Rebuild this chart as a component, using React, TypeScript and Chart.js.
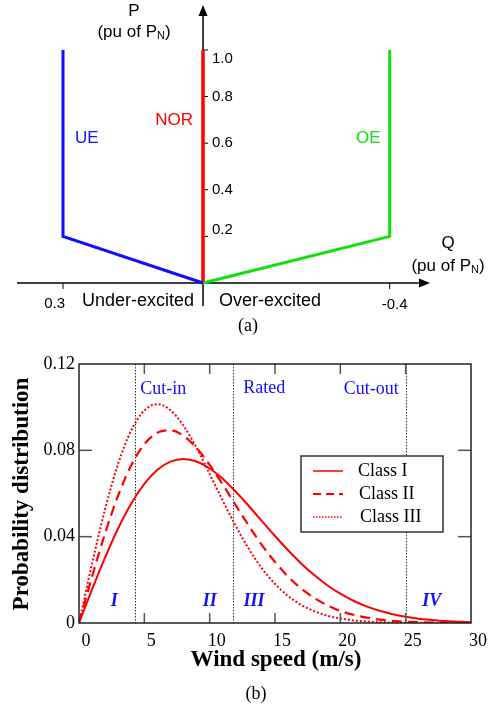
import React, { useEffect, useRef } from 'react';
import { Chart, registerables } from 'chart.js';
Chart.register(...registerables);

// ---------- Panel (a): P-Q capability ----------
const qUE = [0.3, 0.3, 0];
const pUE = [1.0, 0.2, 0];
const qNOR = [0, 0];
const pNOR = [0, 1.0];
const qOE = [-0.4, -0.4, 0];
const pOE = [1.0, 0.2, 0];
const pTicks = [0.2, 0.4, 0.6, 0.8, 1.0];
const pTickLabels = ['0.2', '0.4', '0.6', '0.8', '1.0'];
const qTicks = [0.3, -0.4];
const qTickLabels = ['0.3', '-0.4'];
const qRange = [-0.4864, 0.3986];
const pRange = [-0.0987, 1.193];
const modeNames = ['UE', 'NOR', 'OE'];

// ---------- Panel (b): wind speed distribution ----------
const windSpeed = [0, 1, 2, 3, 4, 5, 6, 7, 8, 9, 10, 11, 12, 13, 14, 15, 16, 17, 18, 19, 20, 21, 22, 23, 24, 25, 26, 27, 28, 29, 30];
const classI = [0, 0.0156, 0.0304, 0.0439, 0.0554, 0.0645, 0.0710, 0.0748, 0.0760, 0.0748, 0.0716, 0.0668, 0.0608, 0.0542, 0.0472, 0.0403, 0.0337, 0.0276, 0.0222, 0.0175, 0.0136, 0.0103, 0.0077, 0.0057, 0.0041, 0.0029, 0.0020, 0.0014, 0.0009, 0.0006, 0.0004];
const classII = [0, 0.0215, 0.0416, 0.0591, 0.0731, 0.0828, 0.0882, 0.0893, 0.0867, 0.0811, 0.0733, 0.0642, 0.0545, 0.0450, 0.0361, 0.0283, 0.0215, 0.0160, 0.0116, 0.0082, 0.0056, 0.0038, 0.0025, 0.0016, 0.0010, 0.0006, 0.0004, 0.0002, 0.0001, 0.0001, 0];
const classIII = [0, 0.0275, 0.0528, 0.0739, 0.0893, 0.0985, 0.1014, 0.0986, 0.0914, 0.0811, 0.0691, 0.0567, 0.0449, 0.0343, 0.0253, 0.0181, 0.0125, 0.0084, 0.0055, 0.0034, 0.0021, 0.0012, 0.0007, 0.0004, 0.0002, 0.0001, 0.0001, 0, 0, 0, 0];
const seriesNames = ['Class I', 'Class II', 'Class III'];
const xTicks = [0, 5, 10, 15, 20, 25, 30];
const yTicks = [0, 0.04, 0.08, 0.12];
const yTickLabels = ['0', '0.04', '0.08', '0.12'];
const thresholds = [4.3, 11.8, 25];
const thresholdNames = ['Cut-in', 'Rated', 'Cut-out'];
const regionNames = ['I', 'II', 'III', 'IV'];
const regionX = [2.7, 10, 13.4, 27];
const regionY = 0.0101;

const SANS = '"Liberation Sans", Arial, sans-serif';
const SERIF = '"Liberation Serif", "Times New Roman", serif';
const BLUE = '#1010ff';
const GREEN = '#10e010';
const RED = '#ff0000';

function drawPu(ctx: CanvasRenderingContext2D, cx: number, cy: number) {
  const big = `17px ${SANS}`;
  const small = `11px ${SANS}`;
  const a = '(pu of P', b = 'N', c = ')';
  ctx.font = big;
  const wa = ctx.measureText(a).width;
  const wc = ctx.measureText(c).width;
  ctx.font = small;
  const wb = ctx.measureText(b).width;
  let xx = cx - (wa + wb + wc) / 2;
  ctx.textAlign = 'left';
  ctx.textBaseline = 'middle';
  ctx.font = big; ctx.fillText(a, xx, cy); xx += wa;
  ctx.font = small; ctx.fillText(b, xx, cy + 4); xx += wb;
  ctx.font = big; ctx.fillText(c, xx, cy);
}

const axesA = {
  id: 'axesA',
  beforeDatasetsDraw(chart: any) {
    const { ctx, chartArea: ca, scales } = chart;
    const x = scales.x, y = scales.y;
    const x0 = x.getPixelForValue(0), y0 = y.getPixelForValue(0);
    ctx.save();
    ctx.strokeStyle = '#000';
    ctx.fillStyle = '#000';
    ctx.lineWidth = 1.5;
    ctx.beginPath(); ctx.moveTo(ca.left, y0); ctx.lineTo(ca.right - 8, y0); ctx.stroke();
    ctx.beginPath(); ctx.moveTo(ca.right, y0); ctx.lineTo(ca.right - 11, y0 - 4.5); ctx.lineTo(ca.right - 11, y0 + 4.5); ctx.closePath(); ctx.fill();
    ctx.beginPath(); ctx.moveTo(x0, ca.bottom); ctx.lineTo(x0, ca.top + 8); ctx.stroke();
    ctx.beginPath(); ctx.moveTo(x0, ca.top); ctx.lineTo(x0 - 4.5, ca.top + 11); ctx.lineTo(x0 + 4.5, ca.top + 11); ctx.closePath(); ctx.fill();
    ctx.lineWidth = 1;
    pTicks.forEach((v) => {
      const yy = y.getPixelForValue(v);
      ctx.beginPath(); ctx.moveTo(x0, yy); ctx.lineTo(x0 + 5, yy); ctx.stroke();
    });
    qTicks.forEach((v) => {
      const xx = x.getPixelForValue(v);
      ctx.beginPath(); ctx.moveTo(xx, y0); ctx.lineTo(xx, y0 + 6); ctx.stroke();
    });
    ctx.restore();
  },
  afterDraw(chart: any) {
    const { ctx, chartArea: ca, scales } = chart;
    const x = scales.x, y = scales.y;
    const x0 = x.getPixelForValue(0), y0 = y.getPixelForValue(0);
    ctx.save();
    ctx.fillStyle = '#000';
    ctx.font = `15px ${SANS}`;
    ctx.textBaseline = 'middle';
    ctx.textAlign = 'left';
    pTicks.forEach((v, i) => {
      ctx.fillText(pTickLabels[i], x0 + 9, y.getPixelForValue(v) + (v === 1.0 ? 9 : v === 0.2 ? -7 : 0));
    });
    qTicks.forEach((v, i) => {
      const xx = x.getPixelForValue(v);
      if (v > 0) { ctx.textAlign = 'right'; ctx.fillText(qTickLabels[i], xx + 2, y0 + 21); }
      else { ctx.textAlign = 'left'; ctx.fillText(qTickLabels[i], xx - 8, y0 + 22); }
    });
    ctx.font = `17px ${SANS}`;
    ctx.textAlign = 'center';
    ctx.fillText('P', x0 - 69, ca.top + 6);
    drawPu(ctx, x0 - 69, ca.top + 27);
    ctx.textAlign = 'center';
    ctx.font = `17px ${SANS}`;
    ctx.fillText('Q', ca.right + 18, y0 - 40);
    drawPu(ctx, ca.right + 18, y0 - 17);
    ctx.font = `18px ${SANS}`;
    ctx.textAlign = 'right';
    ctx.fillText('Under-excited', x0 - 9, y0 + 18);
    ctx.textAlign = 'left';
    ctx.fillText('Over-excited', x0 + 16, y0 + 18);
    // mode labels
    ctx.font = `17px ${SANS}`;
    ctx.fillStyle = BLUE;
    ctx.fillText(modeNames[0], x.getPixelForValue(0.3) + 12, y.getPixelForValue(0.62));
    ctx.fillStyle = RED;
    ctx.textAlign = 'right';
    ctx.fillText(modeNames[1], x0 - 10, y.getPixelForValue(0.7));
    ctx.fillStyle = GREEN;
    ctx.fillText(modeNames[2], x.getPixelForValue(-0.4) - 9, y.getPixelForValue(0.62));
    // caption
    ctx.fillStyle = '#000';
    ctx.textAlign = 'center';
    ctx.font = `18px ${SERIF}`;
    ctx.fillText('(a)', 248, 326);
    ctx.restore();
  },
};

const decorB = {
  id: 'decorB',
  beforeDatasetsDraw(chart: any) {
    const { ctx, chartArea: ca, scales } = chart;
    const x = scales.x;
    ctx.save();
    ctx.strokeStyle = '#333';
    ctx.lineWidth = 1;
    ctx.setLineDash([1.5, 1.5]);
    thresholds.forEach((t) => {
      const xx = Math.round(x.getPixelForValue(t)) + 0.5;
      ctx.beginPath(); ctx.moveTo(xx, ca.top); ctx.lineTo(xx, ca.bottom); ctx.stroke();
    });
    ctx.restore();
  },
  afterDraw(chart: any) {
    const { ctx, chartArea: ca, scales } = chart;
    const x = scales.x, y = scales.y;
    ctx.save();
    // inward ticks
    ctx.strokeStyle = '#555';
    ctx.lineWidth = 1.5;
    xTicks.forEach((v) => {
      if (v === xTicks[0] || v === xTicks[xTicks.length - 1]) return;
      const xx = x.getPixelForValue(v);
      ctx.beginPath(); ctx.moveTo(xx, ca.bottom); ctx.lineTo(xx, ca.bottom - 10); ctx.stroke();
      ctx.beginPath(); ctx.moveTo(xx, ca.top); ctx.lineTo(xx, ca.top + 10); ctx.stroke();
    });
    yTicks.forEach((v) => {
      if (v === yTicks[0] || v === yTicks[yTicks.length - 1]) return;
      const yy = y.getPixelForValue(v);
      ctx.beginPath(); ctx.moveTo(ca.left, yy); ctx.lineTo(ca.left + 13, yy); ctx.stroke();
      ctx.beginPath(); ctx.moveTo(ca.right, yy); ctx.lineTo(ca.right - 13, yy); ctx.stroke();
    });
    // frame
    ctx.strokeStyle = '#222';
    ctx.lineWidth = 1.5;
    ctx.strokeRect(ca.left, ca.top, ca.right - ca.left, ca.bottom - ca.top);
    // threshold labels
    ctx.fillStyle = BLUE;
    ctx.font = `18px ${SERIF}`;
    ctx.textBaseline = 'middle';
    const ty = ca.top + 25;
    ctx.textAlign = 'left';
    ctx.fillText(thresholdNames[0], x.getPixelForValue(thresholds[0]) + 5, ty);
    ctx.fillText(thresholdNames[1], x.getPixelForValue(thresholds[1]) + 10, ty - 1);
    ctx.textAlign = 'right';
    ctx.fillText(thresholdNames[2], x.getPixelForValue(thresholds[2]) - 7, ty);
    // region labels
    ctx.font = `italic bold 18px ${SERIF}`;
    ctx.textAlign = 'center';
    regionNames.forEach((n, i) => {
      ctx.fillText(n, x.getPixelForValue(regionX[i]), y.getPixelForValue(regionY));
    });
    // legend
    const lx = 301, ly = 116, lw = 142, lh = 76;
    ctx.fillStyle = '#fff';
    ctx.fillRect(lx, ly, lw, lh);
    ctx.strokeStyle = '#333';
    ctx.lineWidth = 1.5;
    ctx.strokeRect(lx, ly, lw, lh);
    const rows = [ly + 15, ly + 38, ly + 61];
    const dashes = [[], [8, 5], [1.5, 1.5]];
    const widths = [1.5, 2, 1.5];
    seriesNames.forEach((n, i) => {
      ctx.save();
      ctx.strokeStyle = RED;
      ctx.lineWidth = widths[i];
      ctx.setLineDash(dashes[i]);
      ctx.beginPath(); ctx.moveTo(lx + 12, rows[i]); ctx.lineTo(lx + 42, rows[i]); ctx.stroke();
      ctx.restore();
      ctx.fillStyle = '#000';
      ctx.font = `18px ${SERIF}`;
      ctx.textAlign = 'left';
      ctx.fillText(n, lx + 57 + i, rows[i]);
    });
    // axis titles
    ctx.fillStyle = '#000';
    ctx.font = `bold 23px ${SERIF}`;
    ctx.textAlign = 'center';
    ctx.fillText('Wind speed (m/s)', 276, 320);
    ctx.save();
    ctx.translate(22, 154);
    ctx.rotate(-Math.PI / 2);
    ctx.fillText('Probability distribution', 0, 0);
    ctx.restore();
    ctx.font = `18px ${SERIF}`;
    ctx.fillText('(b)', 256, 354);
    ctx.restore();
  },
};

export default function App() {
  const refA = useRef<HTMLCanvasElement>(null);
  const refB = useRef<HTMLCanvasElement>(null);

  useEffect(() => {
    const mk = (qs: number[], ps: number[]) => qs.map((q, i) => ({ x: q, y: ps[i] }));
    const chartA = new Chart(refA.current!, {
      type: 'scatter',
      data: {
        datasets: [
          { label: modeNames[0], data: mk(qUE, pUE), showLine: true, borderColor: BLUE, borderWidth: 3, pointRadius: 0, tension: 0 },
          { label: modeNames[2], data: mk(qOE, pOE), showLine: true, borderColor: GREEN, borderWidth: 3, pointRadius: 0, tension: 0 },
          { label: modeNames[1], data: mk(qNOR, pNOR), showLine: true, borderColor: RED, borderWidth: 3.5, pointRadius: 0, tension: 0 },
        ],
      },
      options: {
        responsive: false,
        animation: false,
        devicePixelRatio: 1,
        layout: { padding: { left: 17, right: 68, top: 5, bottom: 34 } },
        plugins: { legend: { display: false }, tooltip: { enabled: false } },
        scales: {
          x: { type: 'linear', reverse: true, min: qRange[0], max: qRange[1], display: false },
          y: { type: 'linear', min: pRange[0], max: pRange[1], display: false },
        },
      },
      plugins: [axesA],
    });

    const dashesB = [[], [10, 6], [2, 2]];
    const seriesB = [classI, classII, classIII];
    const chartB = new Chart(refB.current!, {
      type: 'line',
      data: {
        datasets: seriesB.map((s, i) => ({
          label: seriesNames[i],
          data: s.map((v, j) => ({ x: windSpeed[j], y: v })),
          borderColor: RED,
          borderWidth: i === 1 ? 2.2 : 2,
          borderDash: dashesB[i],
          pointRadius: 0,
          cubicInterpolationMode: 'monotone' as const,
          fill: false,
        })),
      },
      options: {
        responsive: false,
        animation: false,
        devicePixelRatio: 1,
        layout: { padding: { left: 0, right: 27, top: 24, bottom: 0 } },
        plugins: { legend: { display: false }, tooltip: { enabled: false } },
        scales: {
          x: {
            type: 'linear',
            min: xTicks[0],
            max: xTicks[xTicks.length - 1],
            afterBuildTicks: (s: any) => { s.ticks = xTicks.map((v) => ({ value: v })); },
            afterFit: (s: any) => { s.height = 85; },
            grid: { display: false, drawTicks: false },
            border: { display: false },
            ticks: {
              font: { family: SERIF, size: 18 },
              color: '#000',
              padding: 7,
              labelOffset: 7,
              maxRotation: 0,
              callback: (v: any) => String(v),
            },
          },
          y: {
            type: 'linear',
            min: yTicks[0],
            max: yTicks[yTicks.length - 1],
            afterBuildTicks: (s: any) => { s.ticks = yTicks.map((v) => ({ value: v })); },
            afterFit: (s: any) => { s.width = 79; },
            grid: { display: false, drawTicks: false },
            border: { display: false },
            ticks: {
              font: { family: SERIF, size: 18 },
              color: '#000',
              padding: 4,
              callback: (v: any) => {
                const i = yTicks.indexOf(v);
                return i >= 0 ? yTickLabels[i] : '';
              },
            },
          },
        },
      },
      plugins: [decorB],
    });

    return () => { chartA.destroy(); chartB.destroy(); };
  }, []);

  return (
    <div style={{ position: 'absolute', left: 0, top: 0, width: 498, height: 708, background: '#fff' }}>
      <canvas ref={refA} width={498} height={340} style={{ position: 'absolute', left: 0, top: 0, width: 498, height: 340 }} />
      <canvas ref={refB} width={498} height={368} style={{ position: 'absolute', left: 0, top: 340, width: 498, height: 368 }} />
    </div>
  );
}
